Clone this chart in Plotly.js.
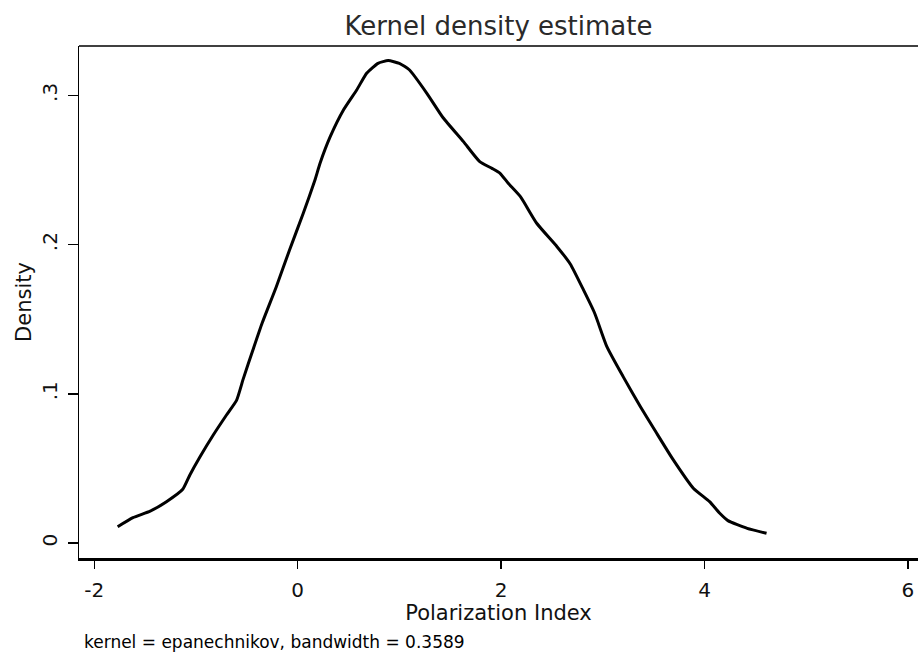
<!DOCTYPE html>
<html>
<head>
<meta charset="utf-8">
<script src="https://cdn.plot.ly/plotly-3.0.1.min.js"></script>
<style>html,body{margin:0;padding:0;background:#fff;}#chart{width:918px;height:657px;}</style>
</head>
<body>
<div id="chart"></div>
<script>
// Kernel density estimate of Polarization Index
const polarization = [-1.77, -1.62, -1.45, -1.29, -1.13, -1.06, -0.96, -0.83, -0.70, -0.60, -0.535, -0.44, -0.35, -0.21, -0.08, 0.055, 0.17, 0.22, 0.32, 0.45, 0.58, 0.68, 0.79, 0.89, 1.00, 1.10, 1.27, 1.43, 1.63, 1.79, 1.91, 1.99, 2.07, 2.19, 2.35, 2.55, 2.68, 2.81, 2.92, 3.04, 3.20, 3.37, 3.53, 3.69, 3.89, 4.05, 4.15, 4.23, 4.42, 4.61];
const density = [0.0109, 0.0170, 0.0214, 0.0277, 0.0360, 0.0456, 0.0578, 0.0724, 0.0858, 0.0958, 0.1100, 0.1294, 0.1473, 0.1718, 0.1964, 0.2210, 0.2433, 0.2545, 0.2723, 0.2902, 0.3036, 0.3150, 0.3215, 0.3233, 0.3215, 0.3170, 0.3014, 0.2850, 0.2690, 0.2556, 0.2511, 0.2478, 0.2411, 0.2321, 0.2143, 0.1986, 0.1870, 0.1696, 0.1540, 0.1316, 0.1115, 0.0914, 0.0735, 0.0560, 0.0367, 0.0277, 0.0199, 0.0150, 0.0098, 0.0065];
const xTickVals = [-2, 0, 2, 4, 6];
const xTickText = ["-2", "0", "2", "4", "6"];
const yTickVals = [0, 0.1, 0.2, 0.3];
const yTickText = ["0", ".1", ".2", ".3"];
const titleText = "Kernel density estimate";
const xTitle = "Polarization Index";
const yTitle = "Density";
const noteText = "kernel = epanechnikov, bandwidth = 0.3589";

const FONT = "DejaVu Sans, Arial, sans-serif";

const trace = {
  x: polarization, y: density, type: "scatter", mode: "lines",
  line: {color: "#000", width: 3, shape: "spline", smoothing: 0.5},
  hoverinfo: "skip", showlegend: false
};

const layout = {
  width: 918, height: 657,
  margin: {l: 79, r: 0, t: 46, b: 99, pad: 0},
  paper_bgcolor: "#fff", plot_bgcolor: "#fff",
  font: {family: FONT, color: "#000", size: 20},
  title: {text: titleText, font: {family: FONT, size: 26, color: "#2a2a2a"},
          xref: "paper", x: 0.5, xanchor: "center", yref: "container", y: 0.960, yanchor: "middle"},
  xaxis: {
    range: [-2.15, 6.099], tickmode: "array", tickvals: xTickVals, ticktext: xTickText,
    showgrid: false, zeroline: false, showline: true, linecolor: "#000", linewidth: 2.5, mirror: false,
    ticks: "outside", ticklen: 8, tickwidth: 1.5, tickcolor: "#000", ticklabelstandoff: 4,
    tickfont: {family: FONT, size: 20, color: "#111"},
    title: {text: xTitle, font: {family: FONT, size: 21, color: "#111"}, standoff: 4}
  },
  yaxis: {
    range: [-0.01005, 0.3331], tickmode: "array", tickvals: yTickVals, ticktext: yTickText,
    showgrid: false, zeroline: false, showline: true, linecolor: "#000", linewidth: 1.5, mirror: false,
    ticks: "outside", ticklen: 10, tickwidth: 1.5, tickcolor: "#000", tickangle: -90, ticklabelstandoff: 3,
    tickfont: {family: FONT, size: 20, color: "#111"},
    title: {text: yTitle, font: {family: FONT, size: 21, color: "#111"}, standoff: 0}
  },
  shapes: [{type: "line", xref: "paper", yref: "paper", x0: 0, x1: 1, y0: 1, y1: 1,
            line: {color: "#000", width: 1.5}}],
  annotations: [{text: noteText, xref: "paper", yref: "paper", x: 0.004, y: -0.164,
                 xanchor: "left", yanchor: "middle", showarrow: false,
                 font: {family: FONT, size: 17, color: "#000"}}]
};

Plotly.newPlot("chart", [trace], layout, {staticPlot: true, displayModeBar: false});
</script>
</body>
</html>
